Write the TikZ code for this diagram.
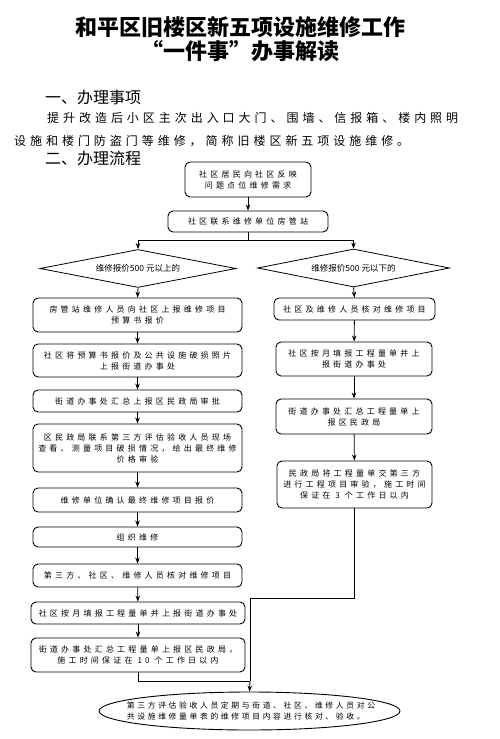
\documentclass[tikz,border=0pt]{standalone}
\usepackage{fontspec}
\setmainfont{Noto Sans CJK SC}
\newfontfamily\boxfont[LetterSpace=40]{Noto Sans CJK SC}
\newfontfamily\endfont[LetterSpace=34]{Noto Sans CJK SC}
\newfontfamily\bodyfont[LetterSpace=33]{Noto Sans CJK SC}
\usetikzlibrary{arrows.meta,shapes.geometric}
\tikzset{
  flowarrow/.style={-{Stealth[length=6pt,width=4.5pt]}, line width=0.8pt},
  flowline/.style={line width=0.8pt},
  stepbox/.style={draw, line width=0.9pt, rounded corners=5pt, align=center, inner sep=2pt,
    font=\boxfont\fontsize{8}{11}\selectfont},
  choice/.style={draw, diamond, aspect=5, inner sep=1pt, line width=0.8pt,
    font=\fontsize{8.5}{10}\selectfont}
}

\begin{document}
\begin{tikzpicture}[x=1pt, y=-1pt]
    \useasboundingbox[fill=white] (0,0) rectangle (500,739);
    % heading and text
    \node[align=center, font=\bfseries\fontsize{22}{24}\selectfont] (title) at (240,39)
      {和平区旧楼区新五项设施维修工作\\“一件事”办事解读};
    \node[anchor=west, inner sep=0, font=\fontsize{16}{18}\selectfont] (sec1) at (45,97) {一、办理事项};
    \node[anchor=west, inner sep=0, font=\bodyfont\fontsize{12}{14}\selectfont] (body1) at (47,118)
      {提升改造后小区主次出入口大门、围墙、信报箱、楼内照明};
    \node[anchor=west, inner sep=0, font=\bodyfont\fontsize{12}{14}\selectfont] (body2) at (14,141)
      {设施和楼门防盗门等维修，简称旧楼区新五项设施维修。};
    \node[anchor=west, inner sep=0, font=\fontsize{16}{18}\selectfont] (sec2) at (45,158) {二、办理流程};

    % top
    \node[stepbox, minimum width=126, minimum height=35] (b1) at (248,179.5) {社区居民向社区反映\\问题点位维修需求};
    \node[stepbox, minimum width=160, minimum height=21] (b2) at (248,221.5) {社区联系维修单位房管站};
    \node[choice, minimum width=196, minimum height=38] (d1) at (138,268.5) {维修报价500 元以上的};
    \node[choice, minimum width=192, minimum height=38] (d2) at (353.5,268) {维修报价500 元以下的};

    % left branch
    \node[stepbox, minimum width=209, minimum height=34] (l1) at (137.5,315) {房管站维修人员向社区上报维修项目\\预算书报价};
    \node[stepbox, minimum width=209, minimum height=33] (l2) at (137.5,360.5) {社区将预算书报价及公共设施破损照片\\上报街道办事处};
    \node[stepbox, minimum width=209, minimum height=22] (l3) at (137.5,401) {街道办事处汇总上报区民政局审批};
    \node[stepbox, minimum width=209, minimum height=48] (l4) at (137.5,448) {区民政局联系第三方评估验收人员现场\\查看、测量项目破损情况，给出最终维修\\价格审验};
    \node[stepbox, minimum width=209, minimum height=24] (l5) at (137.5,500) {维修单位确认最终维修项目报价};
    \node[stepbox, minimum width=209, minimum height=20] (l6) at (137.5,537) {组织维修};
    \node[stepbox, minimum width=209, minimum height=23] (l7) at (137.5,575.5) {第三方、社区、维修人员核对维修项目};
    \node[stepbox, minimum width=214, minimum height=22] (l8) at (138,613) {社区按月填报工程量单并上报街道办事处};
    \node[stepbox, minimum width=214, minimum height=34] (l9) at (138,655) {街道办事处汇总工程量单上报区民政局，\\施工时间保证在 10 个工作日以内};

    % right branch
    \node[stepbox, minimum width=161, minimum height=22] (r1) at (354.5,309) {社区及维修人员核对维修项目};
    \node[stepbox, minimum width=156, minimum height=34] (r2) at (354,359) {社区按月填报工程量单并上\\报街道办事处};
    \node[stepbox, minimum width=156, minimum height=35] (r3) at (354,416.5) {街道办事处汇总工程量单上\\报区民政局};
    \node[stepbox, minimum width=155, minimum height=47] (r4) at (354.5,484.5) {民政局将工程量单交第三方\\进行工程项目审验，施工时间\\保证在 3 个工作日以内};

    % end
    \node[draw, ellipse, line width=0.9pt, minimum width=301, minimum height=38] (ell) at (249.5,711) {};
    \node[align=left, font=\endfont\fontsize{7.8}{10.5}\selectfont] (elltext) at (251,711)
      {第三方评估验收人员定期与街道、社区、维修人员对公\\共设施维修量单表的维修项目内容进行核对、验收。};

    \coordinate (split) at (248,240);
    \coordinate (turn) at (250,598);
    \coordinate (join) at (250,681);

    \draw[flowarrow] (b1) -- (b2);
    \draw[flowline] (b2.south) -- (split);
    \draw[flowarrow] (split) -| (d1.north);
    \draw[flowarrow] (split) -| (d2.north);
    \draw[flowarrow] (d1.south) -- (l1.north);
    \draw[flowarrow] (l1) -- (l2);
    \draw[flowarrow] (l2) -- (l3);
    \draw[flowarrow] (l3) -- (l4);
    \draw[flowarrow] (l4) -- (l5);
    \draw[flowarrow] (l5) -- (l6);
    \draw[flowarrow] (l6) -- (l7);
    \draw[flowarrow] (l7) -- (l8);
    \draw[flowarrow] (l8) -- (l9);
    \draw[flowarrow] (d2.south) -- (r1.north);
    \draw[flowarrow] (r1) -- (r2);
    \draw[flowarrow] (r2) -- (r3);
    \draw[flowarrow] (r3) -- (r4);
    \draw[flowline] (r4.south) |- (turn) -- (join);
    \draw[flowline] (l9.south) |- (join);
    \draw[flowarrow] (join) -- (ell.north);
  \end{tikzpicture}
\end{document}
